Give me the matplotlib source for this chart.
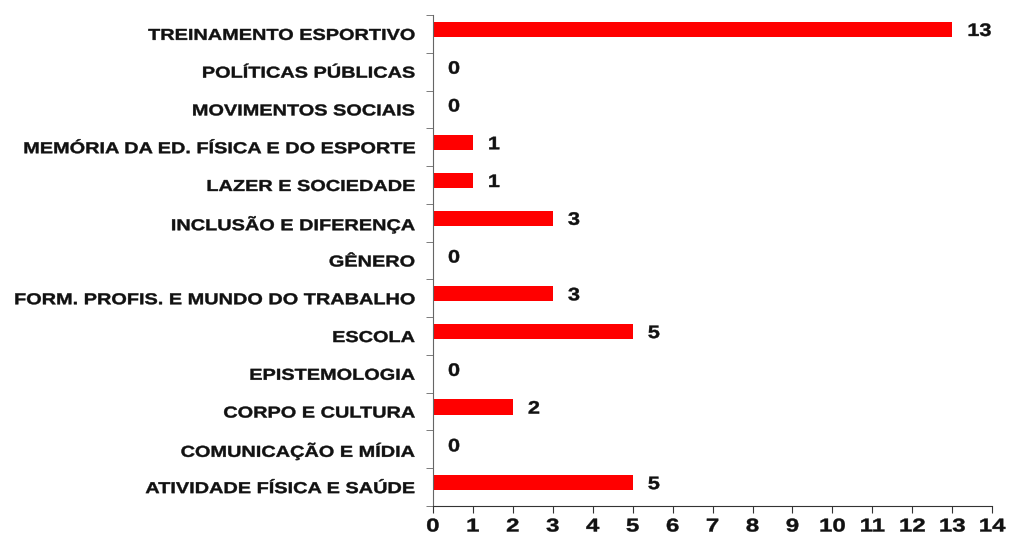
import matplotlib.pyplot as plt
import numpy as np
from matplotlib.patheffects import AbstractPathEffect
from matplotlib.transforms import Affine2D

categories = [
    "ATIVIDADE FÍSICA E SAÚDE",
    "COMUNICAÇÃO E MÍDIA",
    "CORPO E CULTURA",
    "EPISTEMOLOGIA",
    "ESCOLA",
    "FORM. PROFIS. E MUNDO DO TRABALHO",
    "GÊNERO",
    "INCLUSÃO E DIFERENÇA",
    "LAZER E SOCIEDADE",
    "MEMÓRIA DA ED. FÍSICA E DO ESPORTE",
    "MOVIMENTOS SOCIAIS",
    "POLÍTICAS PÚBLICAS",
    "TREINAMENTO ESPORTIVO",
]
values = [5, 0, 2, 0, 5, 3, 0, 3, 1, 1, 0, 0, 13]
x_ticks = list(range(0, 15))


class Stretch(AbstractPathEffect):
    # the source chart's lettering is widened horizontally; widen the glyphs
    # around a pivot (0 = left, 0.5 = centre, 1 = right of the ink)
    def __init__(self, sx, anchor):
        super().__init__()
        self.sx = sx
        self.anchor = anchor

    def draw_path(self, renderer, gc, tpath, affine, rgbFace=None):
        ext = tpath.get_extents()
        pivot = ext.x0 + self.anchor * (ext.x1 - ext.x0)
        t = Affine2D().translate(-pivot, 0).scale(self.sx, 1).translate(pivot, 0)
        gc.set_linewidth(0.3)
        gc.set_foreground(rgbFace)
        renderer.draw_path(gc, tpath, t + affine, rgbFace)


plt.rcParams['font.family'] = ['Liberation Sans', 'DejaVu Sans']
plt.rcParams['font.weight'] = 'bold'

fig = plt.figure(figsize=(10.09, 5.36), dpi=100)
ax = fig.add_axes([0.429, 0.056, 0.5544, 0.916])

y = np.arange(len(categories))
bar_y = y + 0.12
ax.barh(bar_y, values, height=0.4, color='#ff0000')

for yi, v in zip(bar_y, values):
    ax.annotate(str(v), (v, yi), xytext=(11, -1.5), textcoords='offset points',
                va='center', ha='left', fontsize=13, fontweight='bold',
                color='#111111', path_effects=[Stretch(1.2, 0)])

ax.set_xlim(0, 14)
ax.set_ylim(-0.5, len(categories) - 0.5)
ax.set_xticks(x_ticks)
ax.set_xticklabels([str(t) for t in x_ticks], fontsize=13.4, fontweight='bold',
                   color='#111111')
ax.set_yticks(y)
ax.set_yticklabels(categories, fontsize=11.4, fontweight='bold', color='#111111')
ax.set_yticks(np.arange(-0.5, len(categories), 1.0), minor=True)

for lbl in ax.get_xticklabels():
    lbl.set_path_effects([Stretch(1.29, 0.5)])
for lbl in ax.get_yticklabels():
    lbl.set_path_effects([Stretch(1.257, 1)])

ax.tick_params(axis='y', which='major', length=0, pad=13)
ax.tick_params(axis='y', which='minor', length=5, color='#666666', direction='out')
ax.tick_params(axis='x', length=5, color='#333333', pad=4)

for s in ['top', 'right']:
    ax.spines[s].set_visible(False)
ax.spines['left'].set_color('#666666')
ax.spines['bottom'].set_color('#333333')

plt.savefig('out.png', dpi=100)
